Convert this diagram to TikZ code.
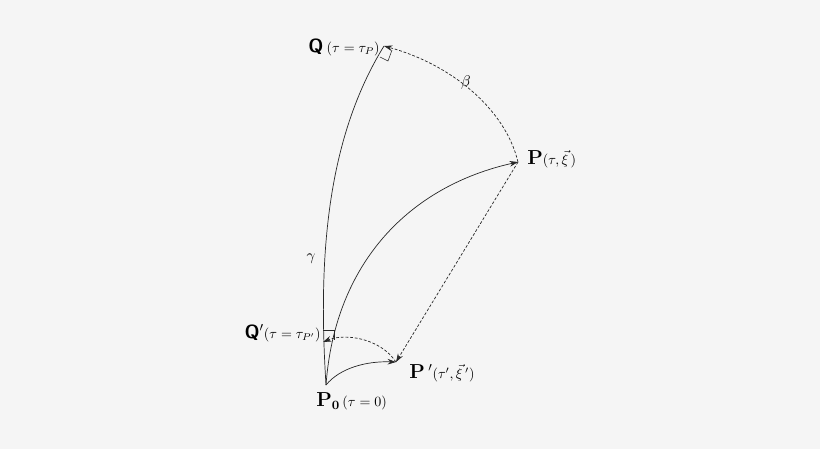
\documentclass[tikz,border=0pt]{standalone}
\usepackage{amsmath}
\usepackage{amssymb}
\usepackage{color}
\usepackage{tikz}
\usetikzlibrary{arrows.meta,calc}
\definecolor{paperGray}{RGB}{245,245,245}
\definecolor{inkGray}{RGB}{40,40,40}
\newcommand{\evQ}{\textsf{\textbf{Q}}}
\newcommand{\evP}{$\mathbf{P}$}
\newcommand{\coordTxt}[1]{{\fontsize{10}{12}\selectfont$#1$}}

\begin{document}
\begin{tikzpicture}[x=0.025cm, y=-0.025cm, >={Stealth[length=6pt,width=4pt]}, line width=0.5pt]
        \tikzset{
           worldline/.style={
                        draw=inkGray
                       },
           signal/.style={
                        ->,
                        draw=inkGray
                       },
           geodesic/.style={
                        ->,
                        draw=inkGray,
                        dash pattern=on 2pt off 1.3pt
                       },
           evLabel/.style={
                        inner sep=0pt,
                        text=black,
                        font=\fontsize{13.5}{16}\selectfont
                       },
           greekLabel/.style={
                        inner sep=0pt,
                        text=black,
                        font=\fontsize{11}{13}\selectfont
                       },
           rightMark/.style={
                        draw=inkGray,
                        line width=0.4pt
                       },
                 };
    %--------------------
        \fill[paperGray] (0,0) rectangle (820,449);
        \useasboundingbox (0,0) rectangle (820,449);

        \coordinate (P0) at (326,385);
        \coordinate (Q)  at (384,46);
        \coordinate (P)  at (518,162);
        \coordinate (Pp) at (396,362);
        \coordinate (Qp) at (323,342);

        \node[evLabel, anchor=east] (labQ)  at (380,47)  {\evQ\,\coordTxt{(\tau=\tau_P)}};
        \node[evLabel, anchor=west] (labP)  at (527,159) {\evP\coordTxt{(\tau,\vec{\xi}\,)}};
        \node[evLabel, anchor=west] (labPp) at (409,373) {$\mathbf{P}\,'$\coordTxt{(\tau',\vec{\xi}\,')}};
        \node[evLabel, anchor=west] (labP0) at (316,401) {$\mathbf{P_0}$\coordTxt{\,(\tau=0)}};
        \node[evLabel, anchor=east] (labQp) at (321,333) {\evQ$'$\coordTxt{(\tau=\tau_{P'})}};

        \node[greekLabel] (gamma) at (311,259) {$\gamma$};
        \node[greekLabel] (beta)  at (466,83)  {$\beta$};
    %--------------------
        \draw[worldline] (P0) .. controls (318,260) and (326,140) .. (Q);
        \draw[signal]    (P0) .. controls (335,262) and (410,186) .. (P);
        \draw[signal]    (P0) .. controls (340,368) and (366,361) .. (Pp);
        \draw[geodesic]  (P)  .. controls (505,108) and (450,64)  .. (Q);
        \draw[geodesic]  (P)  -- (Pp);
        \draw[geodesic]  (Pp) .. controls (380,338) and (345,333) .. (Qp);

        \draw[rightMark] ($(Q)+(8,4)$) -- ++(-4,11) -- ++(-8,-4);
        \draw[rightMark] ($(Qp)+(0,-12)$) -- ++(11,0) -- ++(0,10);
\end{tikzpicture}
\end{document}
